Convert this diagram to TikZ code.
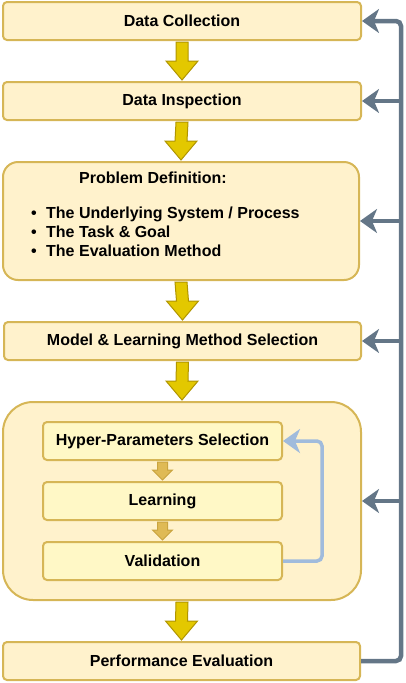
\documentclass[tikz,border=0pt]{standalone}
\usepackage{fontspec}
\setmainfont{Liberation Sans}
\usetikzlibrary{arrows.meta,calc}

\definecolor{boxfill}{HTML}{FFF2CC}
\definecolor{boxline}{HTML}{D6B656}
\definecolor{subfill}{HTML}{FFF8C6}
\definecolor{fatfill}{HTML}{E3C800}
\definecolor{fatline}{HTML}{B09500}
\definecolor{thinfill}{HTML}{DFBA55}
\definecolor{thinline}{HTML}{C9A440}
\definecolor{railcol}{HTML}{647687}
\definecolor{loopcol}{HTML}{A0BBDC}

\tikzset{
    stage/.style={draw=boxline, fill=boxfill, line width=2pt, rounded corners=4pt,
        minimum width=358pt, minimum height=38pt, inner sep=0pt,
        font=\bfseries\fontsize{16}{19}\selectfont},
    substage/.style={stage, fill=subfill, minimum width=239pt},
    fatarrow/.style={draw=fatline, fill=fatfill, line width=1pt},
    thinarrow/.style={draw=thinline, fill=thinfill, line width=1pt},
    feedback/.style={draw=railcol, line width=4.5pt, rounded corners=5pt,
        -{Stealth[length=17pt,width=24pt,inset=5pt]}},
    loopback/.style={draw=loopcol, line width=3.5pt, rounded corners=5pt,
        -{Stealth[length=17pt,width=24pt,inset=5pt]}}
}

\begin{document}
\begin{tikzpicture}[x=1pt,y=-1pt]
    \useasboundingbox (0,0) rectangle (406,683);

    % main stages
    \node[stage] (dc) at (182,21) {Data Collection};
    \node[stage] (di) at (182,101) {Data Inspection};
    \node[stage, rounded corners=15pt, minimum width=356pt, minimum height=118pt] (pd) at (181,221) {};
    \node[anchor=north west, align=left, inner sep=0pt, font=\bfseries\fontsize{16}{19}\selectfont] (pdtext)
        at ($(pd.north west)+(29,10.5)$)
        {\hspace*{48pt}Problem Definition:\\[16pt]
         \makebox[15pt][l]{\textbullet}The Underlying System / Process\\
         \makebox[15pt][l]{\textbullet}The Task \& Goal\\
         \makebox[15pt][l]{\textbullet}The Evaluation Method};
    \node[stage, minimum width=357pt] (ms) at (182.5,341) {Model \& Learning Method Selection};
    \node[stage, rounded corners=30pt, minimum height=198pt] (ct) at (182,501) {};
    \node[stage, minimum width=357pt] (pe) at (181.5,661) {Performance Evaluation};

    % inner loop
    \node[substage] (hp) at (162.5,441) {Hyper-Parameters Selection};
    \node[substage] (le) at (162.5,501) {Learning};
    \node[substage] (va) at (162.5,561) {Validation};

    % flow arrows
    \foreach \a/\b in {dc/di, di/pd, pd/ms, ms/ct, ct/pe}
        \draw[fatarrow] ($(\a.south)+(-6,1)$) -- ($(\b.north)+(-6,-20)$) -- ++(-10,0)
            -- ($(\b.north)+(0,-1)$) -- ($(\b.north)+(16,-20)$) -- ++(-10,0)
            -- ($(\a.south)+(6,1)$) -- cycle;
    \foreach \a/\b in {hp/le, le/va}
        \draw[thinarrow] ($(\a.south)+(-5,1)$) -- ($(\b.north)+(-5,-11)$) -- ++(-5,0)
            -- ($(\b.north)+(0,-1)$) -- ($(\b.north)+(10,-11)$) -- ++(-5,0)
            -- ($(\a.south)+(5,1)$) -- cycle;

    % feedback
    \coordinate (rail) at ($(pe.east)+(40,0)$);
    \draw[feedback] (pe.east) -- (rail) |- (dc.east);
    \foreach \n in {di, pd, ms, ct}
        \draw[feedback] (rail |- \n.east) -- (\n.east);
    \draw[loopback] (va.east) -- ++(39,0) |- (hp.east);
\end{tikzpicture}
\end{document}
